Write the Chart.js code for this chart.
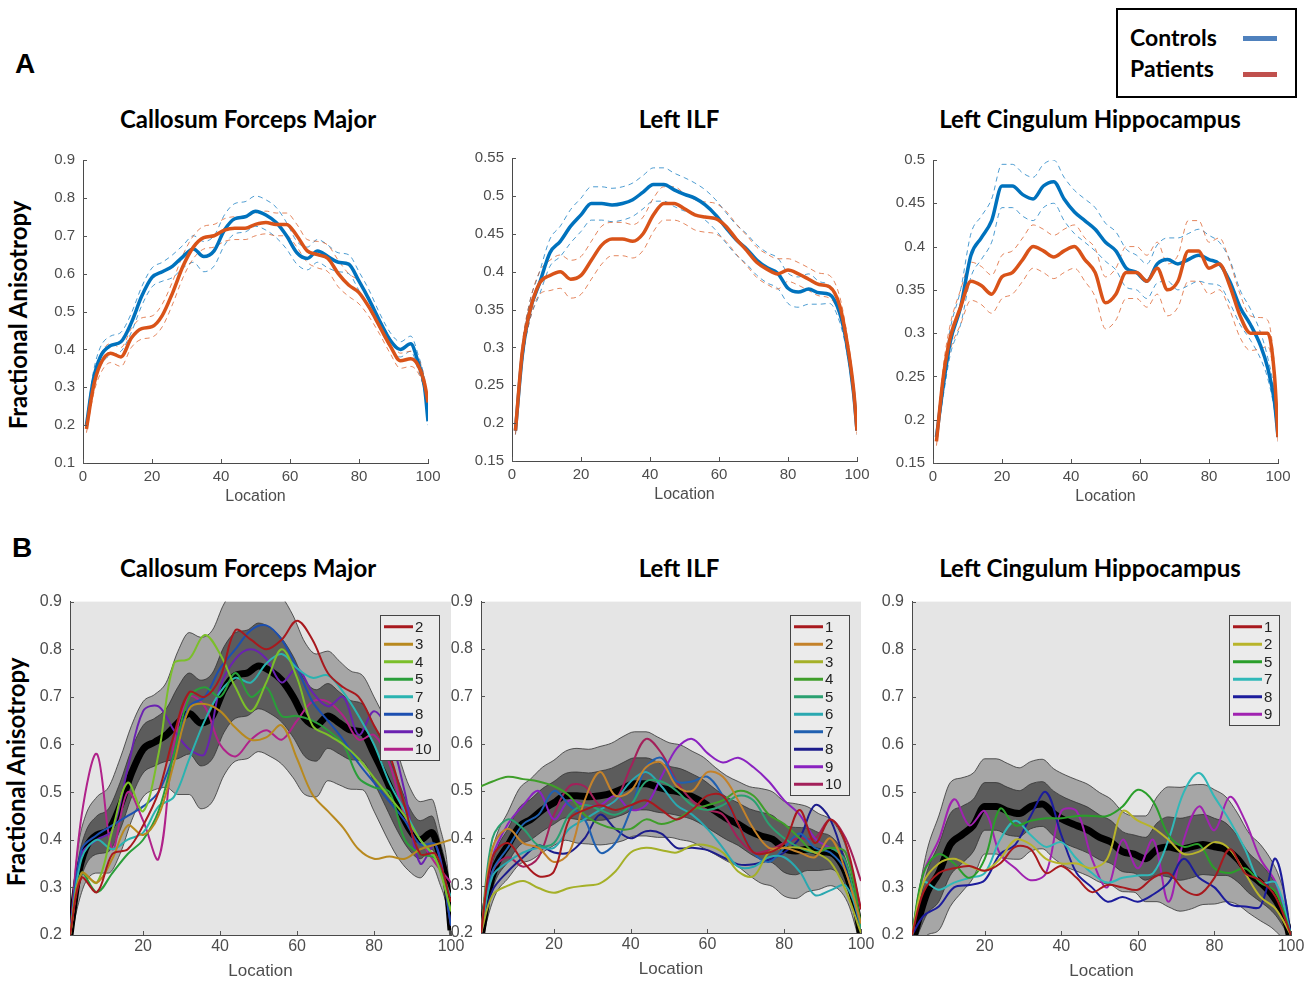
<!DOCTYPE html>
<html>
<head>
<meta charset="utf-8">
<script src="https://cdn.jsdelivr.net/npm/chart.js@4.4.1/dist/chart.umd.min.js"></script>
<style>
  body { margin: 0; background: #fff; width: 1313px; height: 983px; position: relative; overflow: hidden; font-family: Lato, "Open Sans", sans-serif; }
  canvas { position: absolute; }
  .titulo { position: absolute; font-weight: bold; font-size: 24px; line-height: 24px; transform: translateX(-50%); white-space: nowrap; color: #000; }
  .letra { position: absolute; font-family: "Liberation Sans", Arial, sans-serif; font-weight: bold; font-size: 28px; line-height: 28px; transform: translate(-50%, -50%); }
  .ylab { position: absolute; font-weight: bold; font-size: 24px; line-height: 24px; white-space: nowrap; transform: translate(-50%, -50%) rotate(-90deg); }
  #leyenda { position: absolute; left: 1116px; top: 8px; width: 181px; height: 90px; border: 2px solid #000; box-sizing: border-box; }
  #leyenda .txt { position: absolute; left: 12px; font-weight: bold; font-size: 23px; line-height: 23px; }
  #leyenda .barra { position: absolute; left: 125px; width: 34px; height: 5px; }
</style>
</head>
<body>
<div class="letra" style="left:25px; top:64px;">A</div>
<div class="letra" style="left:22px; top:548px;">B</div>

<div id="leyenda">
  <div class="txt" style="top:16px;">Controls</div>
  <div class="barra" style="top:26px; background:#4F81BD;"></div>
  <div class="txt" style="top:47px;">Patients</div>
  <div class="barra" style="top:62px; background:#C0504D;"></div>
</div>

<div class="titulo" style="left:248px; top:107px;">Callosum Forceps Major</div>
<div class="titulo" style="left:679px; top:107px;">Left ILF</div>
<div class="titulo" style="left:1090px; top:107px;">Left Cingulum Hippocampus</div>
<div class="titulo" style="left:248px; top:556px;">Callosum Forceps Major</div>
<div class="titulo" style="left:679px; top:556px;">Left ILF</div>
<div class="titulo" style="left:1090px; top:556px;">Left Cingulum Hippocampus</div>

<div class="ylab" style="left:18px; top:315px;">Fractional Anisotropy</div>
<div class="ylab" style="left:16px; top:772px;">Fractional Anisotropy</div>

<canvas id="graficoA1"></canvas>
<canvas id="graficoA2"></canvas>
<canvas id="graficoA3"></canvas>
<canvas id="graficoB1"></canvas>
<canvas id="graficoB2"></canvas>
<canvas id="graficoB3"></canvas>

<script>
// posiciones a lo largo del tracto
var loc = [1, 3, 5, 8, 11, 14, 17, 20, 23, 26, 29, 32, 35, 38, 41, 44, 47, 50, 53, 56, 59, 62, 65, 68, 71, 74, 77, 80, 83, 86, 89, 92, 95, 97, 99, 100];
var locP = [1, 4, 8, 12, 16, 20, 24, 28, 32, 36, 40, 44, 48, 52, 56, 60, 64, 68, 72, 76, 80, 84, 88, 92, 96, 100];

// ticks
var ticksXA = [0, 20, 40, 60, 80, 100];
var ticksXB = [20, 40, 60, 80, 100];
var ticksYCfm = [0.1, 0.2, 0.3, 0.4, 0.5, 0.6, 0.7, 0.8, 0.9];
var ticksYIlf = [0.15, 0.2, 0.25, 0.3, 0.35, 0.4, 0.45, 0.5, 0.55];
var ticksYCh = [0.15, 0.2, 0.25, 0.3, 0.35, 0.4, 0.45, 0.5];
var ticksYB = [0.2, 0.3, 0.4, 0.5, 0.6, 0.7, 0.8, 0.9];

// Callosum Forceps Major: medias y error
var cfmControls = [0.20, 0.32, 0.38, 0.41, 0.42, 0.47, 0.54, 0.59, 0.605, 0.62, 0.645, 0.665, 0.645, 0.66, 0.715, 0.745, 0.75, 0.765, 0.755, 0.735, 0.70, 0.655, 0.64, 0.66, 0.645, 0.63, 0.625, 0.58, 0.53, 0.475, 0.425, 0.40, 0.415, 0.37, 0.30, 0.21];
var cfmPatients = [0.19, 0.30, 0.36, 0.39, 0.38, 0.43, 0.455, 0.46, 0.49, 0.55, 0.62, 0.67, 0.695, 0.70, 0.715, 0.72, 0.72, 0.73, 0.735, 0.73, 0.73, 0.70, 0.66, 0.65, 0.64, 0.60, 0.57, 0.55, 0.51, 0.46, 0.41, 0.37, 0.375, 0.36, 0.31, 0.26];
var cfmCtrlSe = [0.01, 0.02, 0.025, 0.025, 0.025, 0.025, 0.025, 0.025, 0.025, 0.03, 0.03, 0.035, 0.04, 0.04, 0.04, 0.04, 0.04, 0.04, 0.04, 0.04, 0.035, 0.03, 0.03, 0.03, 0.03, 0.025, 0.025, 0.025, 0.025, 0.02, 0.02, 0.02, 0.02, 0.02, 0.015, 0.01];
var cfmPatSe = [0.01, 0.02, 0.025, 0.025, 0.025, 0.025, 0.028, 0.028, 0.03, 0.03, 0.03, 0.03, 0.03, 0.03, 0.03, 0.03, 0.03, 0.03, 0.03, 0.03, 0.03, 0.03, 0.03, 0.035, 0.035, 0.035, 0.03, 0.03, 0.025, 0.02, 0.02, 0.02, 0.02, 0.02, 0.015, 0.01];

// Left ILF
var ilfControls = [0.19, 0.29, 0.345, 0.385, 0.425, 0.44, 0.46, 0.475, 0.49, 0.49, 0.488, 0.49, 0.495, 0.505, 0.515, 0.515, 0.508, 0.502, 0.497, 0.488, 0.475, 0.458, 0.442, 0.43, 0.415, 0.405, 0.398, 0.378, 0.373, 0.377, 0.372, 0.37, 0.345, 0.305, 0.24, 0.19];
var ilfPatients = [0.19, 0.295, 0.345, 0.385, 0.395, 0.40, 0.39, 0.395, 0.415, 0.435, 0.443, 0.443, 0.44, 0.45, 0.475, 0.49, 0.49, 0.483, 0.475, 0.472, 0.47, 0.46, 0.443, 0.428, 0.412, 0.403, 0.397, 0.402, 0.397, 0.39, 0.383, 0.38, 0.355, 0.31, 0.245, 0.19];
var ilfCtrlSe = [0.005, 0.01, 0.012, 0.015, 0.018, 0.02, 0.022, 0.022, 0.022, 0.022, 0.022, 0.022, 0.022, 0.022, 0.022, 0.022, 0.022, 0.022, 0.02, 0.02, 0.02, 0.02, 0.02, 0.02, 0.02, 0.02, 0.02, 0.02, 0.02, 0.02, 0.015, 0.012, 0.012, 0.01, 0.008, 0.005];
var ilfPatSe = [0.005, 0.01, 0.012, 0.015, 0.02, 0.022, 0.025, 0.025, 0.025, 0.025, 0.022, 0.022, 0.022, 0.022, 0.022, 0.022, 0.022, 0.02, 0.02, 0.02, 0.02, 0.02, 0.02, 0.02, 0.02, 0.02, 0.02, 0.015, 0.015, 0.015, 0.015, 0.015, 0.012, 0.01, 0.008, 0.005];

// Left Cingulum Hippocampus
var chControls = [0.18, 0.24, 0.29, 0.33, 0.39, 0.41, 0.43, 0.47, 0.47, 0.46, 0.455, 0.47, 0.475, 0.455, 0.44, 0.43, 0.42, 0.405, 0.395, 0.375, 0.37, 0.36, 0.38, 0.385, 0.38, 0.385, 0.39, 0.385, 0.38, 0.36, 0.33, 0.31, 0.285, 0.26, 0.22, 0.18];
var chPatients = [0.175, 0.25, 0.295, 0.33, 0.36, 0.355, 0.345, 0.365, 0.37, 0.385, 0.40, 0.395, 0.388, 0.395, 0.40, 0.385, 0.37, 0.335, 0.345, 0.37, 0.37, 0.36, 0.375, 0.35, 0.36, 0.395, 0.395, 0.375, 0.38, 0.355, 0.32, 0.30, 0.30, 0.30, 0.25, 0.18];
var chCtrlSe = [0.005, 0.012, 0.015, 0.02, 0.025, 0.025, 0.025, 0.025, 0.025, 0.025, 0.025, 0.025, 0.025, 0.025, 0.025, 0.025, 0.025, 0.022, 0.022, 0.022, 0.02, 0.02, 0.022, 0.025, 0.03, 0.03, 0.03, 0.028, 0.025, 0.025, 0.02, 0.018, 0.015, 0.012, 0.01, 0.005];
var chPatSe = [0.005, 0.012, 0.015, 0.02, 0.022, 0.022, 0.022, 0.025, 0.025, 0.025, 0.025, 0.025, 0.025, 0.025, 0.025, 0.025, 0.028, 0.03, 0.03, 0.03, 0.03, 0.03, 0.03, 0.03, 0.03, 0.035, 0.035, 0.03, 0.03, 0.028, 0.025, 0.02, 0.018, 0.015, 0.01, 0.005];

// desviacion de controles (panel B)
var cfmCtrlSd = [0.01, 0.03, 0.035, 0.04, 0.045, 0.05, 0.05, 0.05, 0.05, 0.055, 0.075, 0.085, 0.09, 0.09, 0.09, 0.09, 0.09, 0.09, 0.09, 0.088, 0.085, 0.08, 0.075, 0.068, 0.065, 0.062, 0.06, 0.06, 0.06, 0.055, 0.045, 0.04, 0.035, 0.03, 0.025, 0.02];
var ilfCtrlSd = [0.01, 0.025, 0.03, 0.035, 0.04, 0.043, 0.045, 0.045, 0.047, 0.05, 0.05, 0.052, 0.053, 0.055, 0.055, 0.055, 0.053, 0.05, 0.05, 0.048, 0.048, 0.046, 0.045, 0.045, 0.047, 0.05, 0.05, 0.05, 0.05, 0.045, 0.04, 0.035, 0.03, 0.025, 0.02, 0.01];
var chCtrlSd = [0.01, 0.03, 0.045, 0.06, 0.065, 0.06, 0.055, 0.05, 0.05, 0.05, 0.048, 0.047, 0.047, 0.047, 0.048, 0.048, 0.048, 0.047, 0.045, 0.042, 0.04, 0.045, 0.055, 0.063, 0.065, 0.065, 0.063, 0.06, 0.055, 0.048, 0.042, 0.04, 0.035, 0.03, 0.02, 0.01];

// pacientes individuales
var cfmIds = ['2', '3', '4', '5', '7', '8', '9', '10'];
var cfmCols = ['#a8191e', '#b8891f', '#7bbf2a', '#2a9e3a', '#2ab3b0', '#1c4fb0', '#6a22b0', '#b0228a'];
var cfmP2 = [0.2, 0.32, 0.29, 0.37, 0.38, 0.43, 0.50, 0.62, 0.71, 0.70, 0.74, 0.84, 0.82, 0.80, 0.82, 0.86, 0.82, 0.75, 0.72, 0.70, 0.64, 0.58, 0.47, 0.37, 0.37, 0.27];
var cfmP3 = [0.2, 0.33, 0.31, 0.36, 0.43, 0.41, 0.45, 0.56, 0.675, 0.685, 0.67, 0.635, 0.61, 0.615, 0.64, 0.57, 0.495, 0.46, 0.425, 0.38, 0.36, 0.365, 0.36, 0.38, 0.39, 0.40];
var cfmP4 = [0.2, 0.33, 0.31, 0.42, 0.52, 0.46, 0.58, 0.77, 0.78, 0.83, 0.79, 0.72, 0.67, 0.73, 0.80, 0.74, 0.64, 0.62, 0.60, 0.57, 0.53, 0.49, 0.45, 0.40, 0.36, 0.25];
var cfmP5 = [0.2, 0.33, 0.29, 0.33, 0.37, 0.40, 0.46, 0.58, 0.70, 0.72, 0.70, 0.75, 0.70, 0.72, 0.66, 0.66, 0.65, 0.63, 0.60, 0.53, 0.51, 0.50, 0.40, 0.37, 0.36, 0.25];
var cfmP7 = [0.2, 0.36, 0.40, 0.38, 0.40, 0.415, 0.47, 0.49, 0.57, 0.65, 0.71, 0.74, 0.73, 0.77, 0.79, 0.76, 0.74, 0.745, 0.71, 0.66, 0.60, 0.52, 0.46, 0.40, 0.36, 0.28];
var cfmP8 = [0.2, 0.38, 0.41, 0.43, 0.45, 0.47, 0.50, 0.58, 0.68, 0.70, 0.76, 0.80, 0.84, 0.85, 0.82, 0.76, 0.69, 0.65, 0.61, 0.56, 0.52, 0.48, 0.44, 0.39, 0.39, 0.22];
var cfmP9 = [0.2, 0.37, 0.40, 0.42, 0.55, 0.67, 0.68, 0.63, 0.59, 0.58, 0.72, 0.78, 0.80, 0.78, 0.73, 0.76, 0.71, 0.68, 0.70, 0.62, 0.67, 0.62, 0.50, 0.35, 0.39, 0.22];
var cfmP10 = [0.2, 0.45, 0.58, 0.38, 0.50, 0.44, 0.36, 0.60, 0.70, 0.68, 0.60, 0.575, 0.61, 0.63, 0.61, 0.65, 0.69, 0.69, 0.66, 0.61, 0.62, 0.56, 0.45, 0.40, 0.35, 0.31];

var ilfIds = ['1', '2', '3', '4', '5', '6', '7', '8', '9', '10'];
var ilfCols = ['#a8191e', '#c4822a', '#a5b028', '#3f9e2a', '#2aa070', '#2aa8b0', '#2060b0', '#1c1c8c', '#8a22c0', '#a3205a'];
var ilfP1 = [0.2, 0.36, 0.39, 0.35, 0.32, 0.33, 0.44, 0.46, 0.47, 0.46, 0.47, 0.48, 0.46, 0.44, 0.46, 0.49, 0.49, 0.43, 0.37, 0.37, 0.39, 0.46, 0.39, 0.44, 0.39, 0.25];
var ilfP2 = [0.2, 0.38, 0.42, 0.39, 0.38, 0.35, 0.37, 0.48, 0.54, 0.49, 0.50, 0.55, 0.56, 0.51, 0.50, 0.54, 0.53, 0.48, 0.42, 0.38, 0.38, 0.37, 0.36, 0.40, 0.33, 0.22];
var ilfP3 = [0.2, 0.28, 0.30, 0.31, 0.295, 0.285, 0.295, 0.30, 0.305, 0.33, 0.37, 0.38, 0.375, 0.37, 0.385, 0.385, 0.37, 0.33, 0.32, 0.37, 0.38, 0.38, 0.37, 0.35, 0.29, 0.2];
var ilfP4 = [0.51, 0.52, 0.53, 0.525, 0.52, 0.51, 0.49, 0.45, 0.43, 0.42, 0.42, 0.44, 0.43, 0.44, 0.46, 0.47, 0.48, 0.50, 0.49, 0.45, 0.43, 0.40, 0.37, 0.38, 0.37, 0.22];
var ilfP5 = [0.2, 0.40, 0.44, 0.42, 0.385, 0.39, 0.45, 0.47, 0.46, 0.45, 0.47, 0.52, 0.52, 0.50, 0.47, 0.46, 0.47, 0.49, 0.48, 0.43, 0.40, 0.38, 0.37, 0.38, 0.35, 0.21];
var ilfP6 = [0.2, 0.32, 0.35, 0.37, 0.38, 0.38, 0.42, 0.44, 0.46, 0.48, 0.52, 0.54, 0.51, 0.47, 0.45, 0.42, 0.38, 0.34, 0.34, 0.36, 0.36, 0.33, 0.28, 0.29, 0.30, 0.22];
var ilfP7 = [0.2, 0.33, 0.38, 0.43, 0.45, 0.50, 0.47, 0.44, 0.37, 0.39, 0.46, 0.55, 0.57, 0.52, 0.52, 0.53, 0.49, 0.43, 0.37, 0.35, 0.38, 0.41, 0.38, 0.37, 0.33, 0.21];
var ilfP8 = [0.2, 0.29, 0.33, 0.36, 0.385, 0.37, 0.37, 0.40, 0.45, 0.42, 0.40, 0.415, 0.41, 0.38, 0.38, 0.375, 0.36, 0.345, 0.345, 0.355, 0.37, 0.40, 0.47, 0.44, 0.34, 0.2];
var ilfP9 = [0.2, 0.36, 0.43, 0.47, 0.50, 0.44, 0.48, 0.47, 0.47, 0.49, 0.46, 0.47, 0.53, 0.59, 0.61, 0.58, 0.56, 0.57, 0.55, 0.52, 0.48, 0.45, 0.40, 0.38, 0.37, 0.25];
var ilfP10 = [0.2, 0.33, 0.36, 0.34, 0.36, 0.45, 0.51, 0.51, 0.47, 0.48, 0.55, 0.61, 0.58, 0.52, 0.48, 0.46, 0.45, 0.40, 0.37, 0.375, 0.39, 0.40, 0.40, 0.44, 0.40, 0.31];

var chIds = ['1', '2', '5', '7', '8', '9'];
var chCols = ['#a8191e', '#b8b42a', '#2a9e2a', '#30b8b8', '#1c1c9c', '#a022b0'];
var chP1 = [0.2, 0.29, 0.33, 0.34, 0.345, 0.335, 0.35, 0.385, 0.38, 0.33, 0.345, 0.32, 0.29, 0.305, 0.30, 0.295, 0.32, 0.33, 0.295, 0.285, 0.32, 0.38, 0.33, 0.315, 0.28, 0.2];
var chP2 = [0.2, 0.31, 0.35, 0.36, 0.345, 0.335, 0.36, 0.40, 0.39, 0.36, 0.35, 0.35, 0.34, 0.36, 0.46, 0.44, 0.425, 0.40, 0.37, 0.375, 0.395, 0.38, 0.33, 0.28, 0.255, 0.2];
var chP5 = [0.2, 0.33, 0.37, 0.35, 0.32, 0.36, 0.465, 0.43, 0.44, 0.445, 0.445, 0.45, 0.45, 0.45, 0.47, 0.505, 0.48, 0.41, 0.385, 0.39, 0.34, 0.33, 0.34, 0.31, 0.29, 0.2];
var chP7 = [0.2, 0.31, 0.295, 0.31, 0.32, 0.33, 0.40, 0.44, 0.41, 0.385, 0.395, 0.36, 0.33, 0.31, 0.32, 0.325, 0.33, 0.40, 0.50, 0.54, 0.49, 0.44, 0.38, 0.31, 0.31, 0.2];
var chP8 = [0.2, 0.24, 0.26, 0.30, 0.305, 0.315, 0.37, 0.39, 0.45, 0.50, 0.41, 0.33, 0.30, 0.27, 0.28, 0.27, 0.285, 0.31, 0.36, 0.32, 0.30, 0.265, 0.26, 0.26, 0.36, 0.2];
var chP9 = [0.2, 0.33, 0.40, 0.485, 0.43, 0.46, 0.37, 0.34, 0.315, 0.33, 0.46, 0.46, 0.36, 0.30, 0.40, 0.34, 0.40, 0.27, 0.40, 0.47, 0.42, 0.49, 0.44, 0.36, 0.31, 0.2];

(function () {

    var azul = '#0072BD';
    var naranja = '#D95319';

    // margenes del canvas alrededor del area de datos
    var M = { izq: 55, arr: 15, der: 22, abj: 50 };

    function puntos(xs, ys) {
        return xs.map(function (x, i) { return { x: x, y: ys[i] }; });
    }

    function desplazar(xs, ys, d, k) {
        return xs.map(function (x, i) { return { x: x, y: ys[i] + k * d[i] }; });
    }

    // marcas de tick hacia dentro, como en matlab
    var marcasPlugin = {
        id: 'marcas',
        afterDraw: function (chart) {
            var ctx = chart.ctx, a = chart.chartArea;
            var sx = chart.scales.x, sy = chart.scales.y;
            ctx.save();
            ctx.strokeStyle = '#555';
            ctx.lineWidth = 1;
            ctx.beginPath();
            sx.ticks.forEach(function (t) {
                var px = Math.round(sx.getPixelForValue(t.value)) + 0.5;
                ctx.moveTo(px, a.bottom);
                ctx.lineTo(px, a.bottom - 4);
            });
            sy.ticks.forEach(function (t) {
                var py = Math.round(sy.getPixelForValue(t.value)) + 0.5;
                ctx.moveTo(a.left, py);
                ctx.lineTo(a.left + 4, py);
            });
            ctx.stroke();
            ctx.restore();
        }
    };

    // fondo gris del area de datos
    var fondoPlugin = {
        id: 'fondo',
        beforeDraw: function (chart, args, opts) {
            if (!opts.color) return;
            var a = chart.chartArea;
            chart.ctx.save();
            chart.ctx.fillStyle = opts.color;
            chart.ctx.fillRect(a.left, a.top, a.right - a.left, a.bottom - a.top);
            chart.ctx.restore();
        }
    };

    // leyenda dentro del area de datos (panel B)
    var leyendaPlugin = {
        id: 'leyendaB',
        afterDraw: function (chart, args, opts) {
            if (!opts.mostrar) return;
            var ctx = chart.ctx, a = chart.chartArea;
            var items = chart.data.datasets.filter(function (d) { return d.enLeyenda; });
            ctx.save();
            ctx.font = '15px "Liberation Sans", Arial, sans-serif';
            var anchoTxt = 0;
            items.forEach(function (d) { anchoTxt = Math.max(anchoTxt, ctx.measureText(d.label).width); });
            var alto = 17.5;
            var w = Math.round(38 + anchoTxt + 4), h = Math.round(items.length * alto + 5);
            var x0 = Math.round(a.right - 12 - w), y0 = Math.round(a.top + 13);
            ctx.fillStyle = '#ebebeb';
            ctx.fillRect(x0, y0, w, h);
            ctx.strokeStyle = '#444';
            ctx.lineWidth = 1;
            ctx.strokeRect(x0 + 0.5, y0 + 0.5, w, h);
            items.forEach(function (d, i) {
                var y = y0 + 3 + alto * (i + 0.5);
                ctx.strokeStyle = d.borderColor;
                ctx.lineWidth = 3;
                ctx.beginPath();
                ctx.moveTo(x0 + 4, y);
                ctx.lineTo(x0 + 33, y);
                ctx.stroke();
                ctx.fillStyle = '#222';
                ctx.textBaseline = 'middle';
                ctx.fillText(d.label, x0 + 35, y + 1);
            });
            ctx.restore();
        }
    };

    function escalas(xMin, ticksX, yMin, yMax, ticksY, fuente, fuenteTitulo, tickPadX, tituloPad) {
        return {
            x: {
                type: 'linear', min: xMin, max: 100,
                afterBuildTicks: function (s) { s.ticks = ticksX.map(function (v) { return { value: v }; }); },
                afterFit: function (s) { s.height = M.abj; },
                grid: { drawOnChartArea: false, drawTicks: false },
                border: { color: '#4a4a4a', width: 1 },
                ticks: {
                    padding: tickPadX, color: '#4d4d4d', maxRotation: 0, autoSkip: false,
                    font: { family: '"Liberation Sans", Arial, sans-serif', size: fuente },
                    callback: function (v) { return String(v); }
                },
                title: {
                    display: true, text: 'Location', color: '#4d4d4d',
                    font: { family: '"Liberation Sans", Arial, sans-serif', size: fuenteTitulo },
                    padding: { top: 0, bottom: tituloPad }
                }
            },
            y: {
                type: 'linear', min: yMin, max: yMax,
                afterBuildTicks: function (s) { s.ticks = ticksY.map(function (v) { return { value: v }; }); },
                afterFit: function (s) { s.width = M.izq; },
                grid: { drawOnChartArea: false, drawTicks: false },
                border: { color: '#4a4a4a', width: 1 },
                ticks: {
                    padding: 8, color: '#4d4d4d', autoSkip: false,
                    font: { family: '"Liberation Sans", Arial, sans-serif', size: fuente },
                    callback: function (v) { return String(+v.toFixed(2)); }
                }
            }
        };
    }

    function crearGrafico(id, area, datasets, scales, extra) {
        var c = document.getElementById(id);
        var w = area.r - area.l + M.izq + M.der;
        var h = area.b - area.t + M.arr + M.abj;
        c.width = w;
        c.height = h;
        c.style.width = w + 'px';
        c.style.height = h + 'px';
        c.style.left = (area.l - M.izq) + 'px';
        c.style.top = (area.t - M.arr) + 'px';
        return new Chart(c.getContext('2d'), {
            type: 'line',
            data: { datasets: datasets },
            options: {
                responsive: false,
                animation: false,
                events: [],
                layout: { padding: { top: M.arr, right: M.der, left: 0, bottom: 0 } },
                elements: { point: { radius: 0 }, line: { cubicInterpolationMode: 'monotone' } },
                scales: scales,
                plugins: {
                    legend: { display: false },
                    tooltip: { enabled: false },
                    filler: { drawTime: 'beforeDatasetsDraw' },
                    fondo: { color: extra.fondo },
                    leyendaB: { mostrar: extra.leyenda }
                }
            },
            plugins: [fondoPlugin, marcasPlugin, leyendaPlugin]
        });
    }

    function graficoMedias(id, area, ctrl, pat, ctrlSe, patSe, yMin, yMax, ticksY) {
        var ds = [
            { label: 'Patients', data: puntos(loc, pat), borderColor: naranja, borderWidth: 3.5, fill: false },
            { label: 'Controls', data: puntos(loc, ctrl), borderColor: azul, borderWidth: 3.5, fill: false },
            { data: desplazar(loc, pat, patSe, 1), borderColor: 'rgba(217,83,25,0.7)', borderWidth: 1, borderDash: [5, 4], fill: false },
            { data: desplazar(loc, pat, patSe, -1), borderColor: 'rgba(217,83,25,0.7)', borderWidth: 1, borderDash: [5, 4], fill: false },
            { data: desplazar(loc, ctrl, ctrlSe, 1), borderColor: 'rgba(0,114,189,0.7)', borderWidth: 1, borderDash: [5, 4], fill: false },
            { data: desplazar(loc, ctrl, ctrlSe, -1), borderColor: 'rgba(0,114,189,0.7)', borderWidth: 1, borderDash: [5, 4], fill: false }
        ];
        crearGrafico(id, area, ds, escalas(0, ticksXA, yMin, yMax, ticksY, 15, 16, 5, 7), { fondo: null, leyenda: false });
    }

    function graficoPacientes(id, area, ctrl, sd, ids, cols, series) {
        var ds = [];
        ids.forEach(function (nombre, i) {
            ds.push({ label: nombre, enLeyenda: true, data: puntos(locP, series[i]), borderColor: cols[i], borderWidth: 2, fill: false, order: 1, cubicInterpolationMode: 'default', tension: 0.35 });
        });
        ds.push({ label: 'media', data: puntos(loc, ctrl), borderColor: '#000', borderWidth: 7, fill: false, order: 5 });
        var n = ds.length;
        ds.push({ data: desplazar(loc, ctrl, sd, 1), borderColor: '#333', borderWidth: 0.8, backgroundColor: '#5c5c5c', fill: n + 1, order: 9 });
        ds.push({ data: desplazar(loc, ctrl, sd, -1), borderColor: '#333', borderWidth: 0.8, fill: false, order: 9 });
        ds.push({ data: desplazar(loc, ctrl, sd, 2), borderColor: '#333', borderWidth: 0.8, backgroundColor: '#a6a6a6', fill: n + 3, order: 10 });
        ds.push({ data: desplazar(loc, ctrl, sd, -2), borderColor: '#333', borderWidth: 0.8, fill: false, order: 10 });
        crearGrafico(id, area, ds, escalas(1, ticksXB, 0.2, 0.9, ticksYB, 16, 17, 2, 3), { fondo: '#e5e5e5', leyenda: true });
    }

    graficoMedias('graficoA1', { l: 83, r: 428, t: 158, b: 463 }, cfmControls, cfmPatients, cfmCtrlSe, cfmPatSe, 0.1, 0.9, ticksYCfm);
    graficoMedias('graficoA2', { l: 512, r: 857, t: 156, b: 461 }, ilfControls, ilfPatients, ilfCtrlSe, ilfPatSe, 0.15, 0.55, ticksYIlf);
    graficoMedias('graficoA3', { l: 933, r: 1278, t: 158, b: 463 }, chControls, chPatients, chCtrlSe, chPatSe, 0.15, 0.5, ticksYCh);

    graficoPacientes('graficoB1', { l: 70, r: 451, t: 599, b: 935 }, cfmControls, cfmCtrlSd, cfmIds, cfmCols,
        [cfmP2, cfmP3, cfmP4, cfmP5, cfmP7, cfmP8, cfmP9, cfmP10]);
    graficoPacientes('graficoB2', { l: 481, r: 861, t: 599, b: 933 }, ilfControls, ilfCtrlSd, ilfIds, ilfCols,
        [ilfP1, ilfP2, ilfP3, ilfP4, ilfP5, ilfP6, ilfP7, ilfP8, ilfP9, ilfP10]);
    graficoPacientes('graficoB3', { l: 912, r: 1291, t: 599, b: 935 }, chControls, chCtrlSd, chIds, chCols,
        [chP1, chP2, chP5, chP7, chP8, chP9]);

})();
</script>
</body>
</html>
